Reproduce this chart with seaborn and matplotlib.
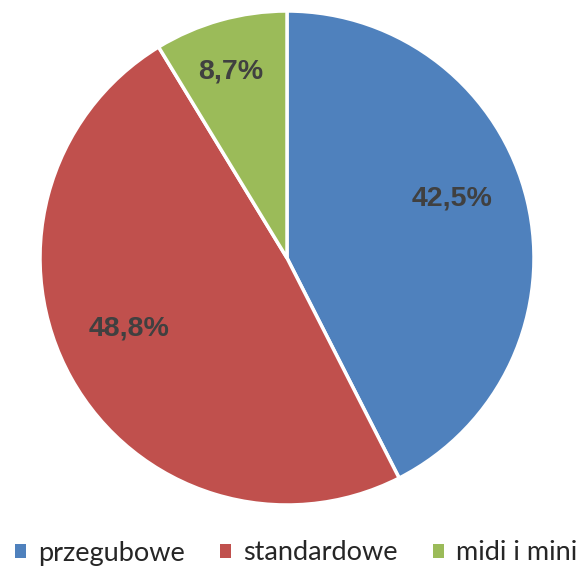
import matplotlib
matplotlib.use("Agg")
import matplotlib.pyplot as plt
import seaborn as sns
import numpy as np
from matplotlib.patches import Patch

categories = ["przegubowe", "standardowe", "midi i mini"]
values = [42.5, 48.8, 8.7]
labels = ["42,5%", "48,8%", "8,7%"]
colors = ["#4F81BD", "#C0504D", "#9BBB59"]

sns.set_theme(style="white")
plt.rcParams['font.family'] = ['Lato', 'DejaVu Sans']

fig = plt.figure(figsize=(5.87, 5.74), dpi=100)
ax = fig.add_axes([40/587, (574-505)/574, 494/587, 494/574])
wedges, _ = ax.pie(values, colors=colors, startangle=90, counterclock=False,
                   wedgeprops=dict(edgecolor="white", linewidth=2.5), radius=1)
dists = [0.71, 0.70, 0.79]
ang_off = [6.4, -5.2, 1.1]
total = sum(values)
start = 90.0
for v, lab, d, off in zip(values, labels, dists, ang_off):
    mid = start - v / total * 360 / 2
    start -= v / total * 360
    ang = np.deg2rad(mid + off)
    ax.text(d * np.cos(ang), d * np.sin(ang), lab, ha="center", va="center",
            fontsize=20.5, fontweight="bold", color="#404040",
            family=["Liberation Sans", "DejaVu Sans"])
ax.set_xlim(-1, 1)
ax.set_ylim(-1, 1)
ax.set_aspect("equal")

handles = [Patch(facecolor=c, edgecolor="none") for c in colors]
fig.legend(handles, categories, loc="center", bbox_to_anchor=(0.505, 1 - 553/574),
           ncol=3, frameon=False, fontsize=19.5, handlelength=0.4, handleheight=0.4,
           handletextpad=0.45, columnspacing=1.3)
fig.savefig("out.png", dpi=100)
